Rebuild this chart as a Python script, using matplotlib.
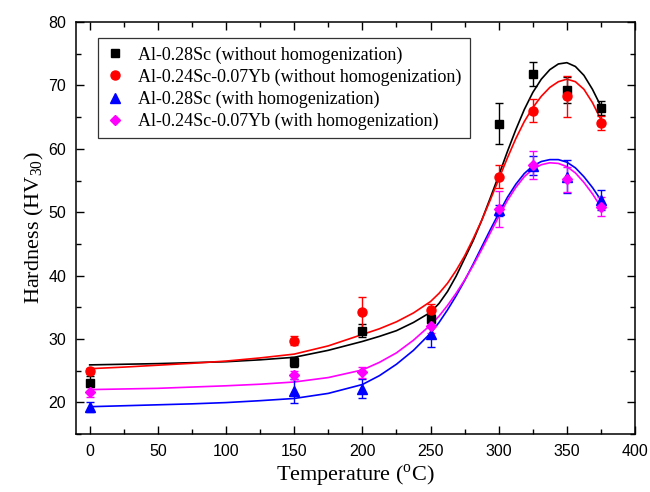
import numpy as np
import matplotlib
matplotlib.use('Agg')
import matplotlib.pyplot as plt
from matplotlib.ticker import MultipleLocator

plt.rcParams['mathtext.fontset'] = 'custom'
plt.rcParams['mathtext.rm'] = 'Liberation Serif'

# measured hardness (HV30) with error bars
temp = [0, 150, 200, 250, 300, 325, 350, 375]
sc_wo = [23.0, 26.3, 31.3, 33.2, 64.0, 71.8, 69.3, 66.4]
sc_wo_err = [1.2, 0.8, 1.0, 0.7, 3.2, 1.9, 2.0, 1.1]
scyb_wo = [24.9, 29.7, 34.2, 34.6, 55.6, 66.0, 68.3, 64.1]
scyb_wo_err = [0.5, 0.7, 2.4, 0.9, 1.8, 1.8, 3.2, 1.1]
sc_w = [19.2, 21.8, 22.1, 30.7, 50.3, 57.3, 55.6, 51.9]
sc_w_err = [0.8, 1.9, 1.5, 2.0, 0.9, 1.5, 2.6, 1.6]
scyb_w = [21.6, 24.3, 24.7, 32.0, 50.5, 57.5, 55.2, 50.9]
scyb_w_err = [0.8, 0.6, 0.8, 1.0, 2.8, 2.2, 2.0, 1.5]

# fitted curves
fit_T = [0, 25, 50, 75, 100, 125, 150, 175, 200, 212.5, 225, 237.5, 250,
         256.25, 262.5, 268.75, 275, 281.25, 287.5, 293.75, 300, 306.25, 312.5,
         318.75, 325, 331.25, 337.5, 343.75, 350, 356.25, 362.5, 368.75, 375]
fit_sc_wo = [25.9, 26.0, 26.1, 26.25, 26.4, 26.7, 27.1, 28.2, 29.6, 30.4, 31.3, 32.6, 34.2,
             35.6, 37.5, 39.9, 42.7, 45.5, 48.7, 52.2, 55.8, 59.5, 63.0,
             66.2, 68.9, 71.0, 72.5, 73.4, 73.6, 73.0, 71.6, 69.4, 66.7]
fit_scyb_wo = [25.3, 25.55, 25.85, 26.15, 26.5, 27.0, 27.6, 28.9, 30.7, 31.6, 32.7, 34.1, 35.9,
               37.2, 38.8, 40.8, 43.1, 45.8, 48.7, 51.9, 55.2, 58.5, 61.6,
               64.3, 66.5, 68.3, 69.7, 70.6, 71.0, 70.6, 69.4, 67.3, 64.6]
fit_sc_w = [19.3, 19.45, 19.6, 19.75, 19.95, 20.25, 20.6, 21.4, 22.8, 24.2, 26.0, 28.2, 30.9,
            32.6, 34.6, 36.8, 39.2, 41.8, 44.5, 47.2, 49.8, 52.3, 54.4,
            56.1, 57.3, 58.0, 58.3, 58.3, 57.9, 57.0, 55.6, 53.9, 51.9]
fit_scyb_w = [22.0, 22.1, 22.2, 22.4, 22.6, 22.85, 23.2, 23.9, 25.1, 26.3, 27.8, 29.8, 32.2,
              33.6, 35.3, 37.2, 39.3, 41.6, 44.1, 46.7, 49.3, 51.8, 53.9,
              55.6, 56.8, 57.5, 57.8, 57.7, 57.2, 56.2, 54.7, 52.9, 50.8]

labels = ['Al-0.28Sc (without homogenization)',
          'Al-0.24Sc-0.07Yb (without homogenization)',
          'Al-0.28Sc (with homogenization)',
          'Al-0.24Sc-0.07Yb (with homogenization)']
colors = ['black', '#ff0000', '#0000ff', '#ff00ff']
markers = ['s', 'o', '^', 'D']
msizes = [5.5, 6.5, 6.5, 5.5]

points = [(sc_wo, sc_wo_err), (scyb_wo, scyb_wo_err), (sc_w, sc_w_err), (scyb_w, scyb_w_err)]
fits = [fit_sc_wo, fit_scyb_wo, fit_sc_w, fit_scyb_w]

fig = plt.figure(figsize=(6.5, 4.92), dpi=100)
ax = fig.add_axes([0.117, 0.118, 0.86, 0.837])

for f, c in zip(fits, colors):
    ax.plot(fit_T, f, color=c, lw=1.2, zorder=2, solid_joinstyle='round')

handles = []
for (y, e), c, m, ms, lab in zip(points, colors, markers, msizes, labels):
    ax.errorbar(temp, y, yerr=e, fmt='none', ecolor=c, elinewidth=1.0,
                capsize=3, capthick=1.0, zorder=3)
    h, = ax.plot(temp, y, linestyle='none', marker=m, color=c, ms=ms,
                 mec=c, label=lab, zorder=4)
    handles.append(h)

ax.set_xlim(-10, 400)
ax.set_ylim(15, 80)
ax.xaxis.set_major_locator(MultipleLocator(50))
ax.xaxis.set_minor_locator(MultipleLocator(25))
ax.yaxis.set_major_locator(MultipleLocator(10))
ax.yaxis.set_minor_locator(MultipleLocator(5))
ax.set_yticks([20, 30, 40, 50, 60, 70, 80])
ax.tick_params(which='both', direction='in', top=True, right=True, width=1.0)
ax.tick_params(which='major', length=6, labelsize=11.5, pad=7)
ax.tick_params(which='minor', length=3.5)
for lb in ax.get_xticklabels() + ax.get_yticklabels():
    lb.set_family('Liberation Sans')
for s in ax.spines.values():
    s.set_linewidth(1.1)

ax.set_xlabel('Temperature ($^{\\mathrm{o}}$C)', family='Liberation Serif',
              fontsize=16, labelpad=3)
ax.set_ylabel('Hardness (HV$_{30}$)', family='Liberation Serif',
              fontsize=16, labelpad=2)

leg = ax.legend(handles=handles, loc='upper left', bbox_to_anchor=(0.039, 0.961),
                borderaxespad=0, numpoints=1, handlelength=1.0, handletextpad=0.8,
                labelspacing=0.27, borderpad=0.45, fancybox=False,
                prop={'family': 'Liberation Serif', 'size': 13})
leg.get_frame().set_edgecolor('black')
leg.get_frame().set_linewidth(0.9)

fig.patch.set_facecolor('white')
fig.savefig('out.png', dpi=100)
